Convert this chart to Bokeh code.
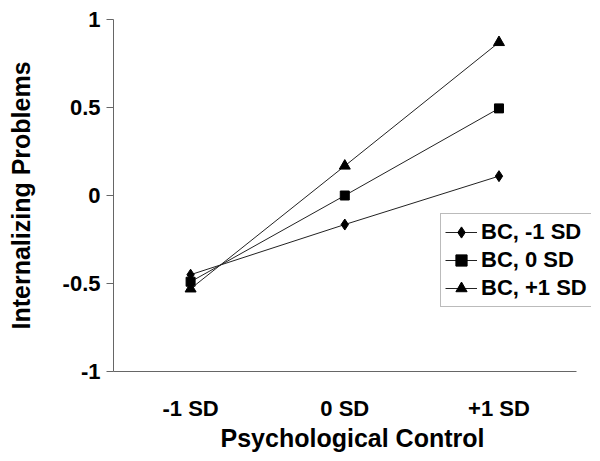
from bokeh.plotting import figure
from bokeh.models import Range1d, FixedTicker, Legend, LegendItem
from bokeh.embed import file_html
from bokeh.resources import INLINE

categories = ["-1 SD", "0 SD", "+1 SD"]
bc_minus1 = [-0.45, -0.165, 0.11]
bc_zero = [-0.49, 0.0, 0.495]
bc_plus1 = [-0.53, 0.168, 0.87]
series_names = ["BC, -1 SD", "BC, 0 SD", "BC, +1 SD"]
y_ticks = [-1, -0.5, 0, 0.5, 1]
y_tick_labels = ["-1", "-0.5", "0", "0.5", "1"]

FONT = "Liberation Sans"

# category positions on a numeric axis (centre of each category slot)
xpos = [i + 0.5 for i in range(len(categories))]

p = figure(x_range=Range1d(0, 3.1), y_range=Range1d(-1, 1),
           width=600, height=461, output_backend="svg", toolbar_location=None,
           min_border_left=113, min_border_right=4, min_border_top=19, min_border_bottom=82)
p.frame_width = 478
p.frame_height = 352
p.outline_line_color = None
p.xgrid.grid_line_color = None
p.ygrid.grid_line_color = None

markers = ["diamond", "square", "triangle"]
sizes = [11, 9, 11]
items = []
for vals, name, m, s in zip([bc_minus1, bc_zero, bc_plus1], series_names, markers, sizes):
    l = p.line(xpos, vals, line_color="#222222", line_width=1)
    sc = p.scatter(xpos, vals, marker=m, size=s, fill_color="black", line_color="black")
    items.append(LegendItem(label=name, renderers=[l, sc]))

legend = Legend(items=items, location=(327, 64))
legend.label_text_font = FONT
legend.label_text_font_style = "bold"
legend.label_text_font_size = "22px"
legend.label_text_color = "black"
legend.label_height = 28
legend.border_line_color = "#777777"
legend.border_line_width = 1
legend.background_fill_color = "white"
legend.background_fill_alpha = 1
legend.glyph_width = 32
legend.glyph_height = 28
legend.label_standoff = 4
legend.padding = 4
legend.spacing = 0
legend.margin = 0
p.add_layout(legend, "center")

p.yaxis.ticker = FixedTicker(ticks=y_ticks)
p.yaxis.major_label_overrides = {t: s for t, s in zip(y_ticks, y_tick_labels)}
p.yaxis.minor_tick_line_color = None
p.yaxis.major_tick_in = 0
p.yaxis.major_tick_out = 7
p.yaxis.axis_line_color = "#666666"
p.yaxis.major_tick_line_color = "#666666"
p.yaxis.major_label_standoff = 6
p.yaxis.major_label_text_font = FONT
p.yaxis.major_label_text_font_style = "bold"
p.yaxis.major_label_text_font_size = "22px"
p.yaxis.major_label_text_color = "black"
p.yaxis.axis_label = "Internalizing Problems"
p.yaxis.axis_label_text_font = FONT
p.yaxis.axis_label_text_font_style = "bold"
p.yaxis.axis_label_text_font_size = "25px"
p.yaxis.axis_label_text_color = "black"
p.yaxis.axis_label_standoff = 25

p.xaxis.ticker = FixedTicker(ticks=xpos)
p.xaxis.major_label_overrides = {x: c for x, c in zip(xpos, categories)}
p.xaxis.bounds = (0, len(categories))
p.xaxis.major_tick_line_color = None
p.xaxis.minor_tick_line_color = None
p.xaxis.axis_line_color = "#666666"
p.xaxis.major_label_standoff = 18
p.xaxis.major_label_text_font = FONT
p.xaxis.major_label_text_font_style = "bold"
p.xaxis.major_label_text_font_size = "22px"
p.xaxis.major_label_text_color = "black"
p.xaxis.axis_label = "Psychological Control"
p.xaxis.axis_label_text_font = FONT
p.xaxis.axis_label_text_font_style = "bold"
p.xaxis.axis_label_text_font_size = "25px"
p.xaxis.axis_label_text_color = "black"
p.xaxis.axis_label_standoff = 0

open("out.html", "w").write(file_html(p, INLINE))
